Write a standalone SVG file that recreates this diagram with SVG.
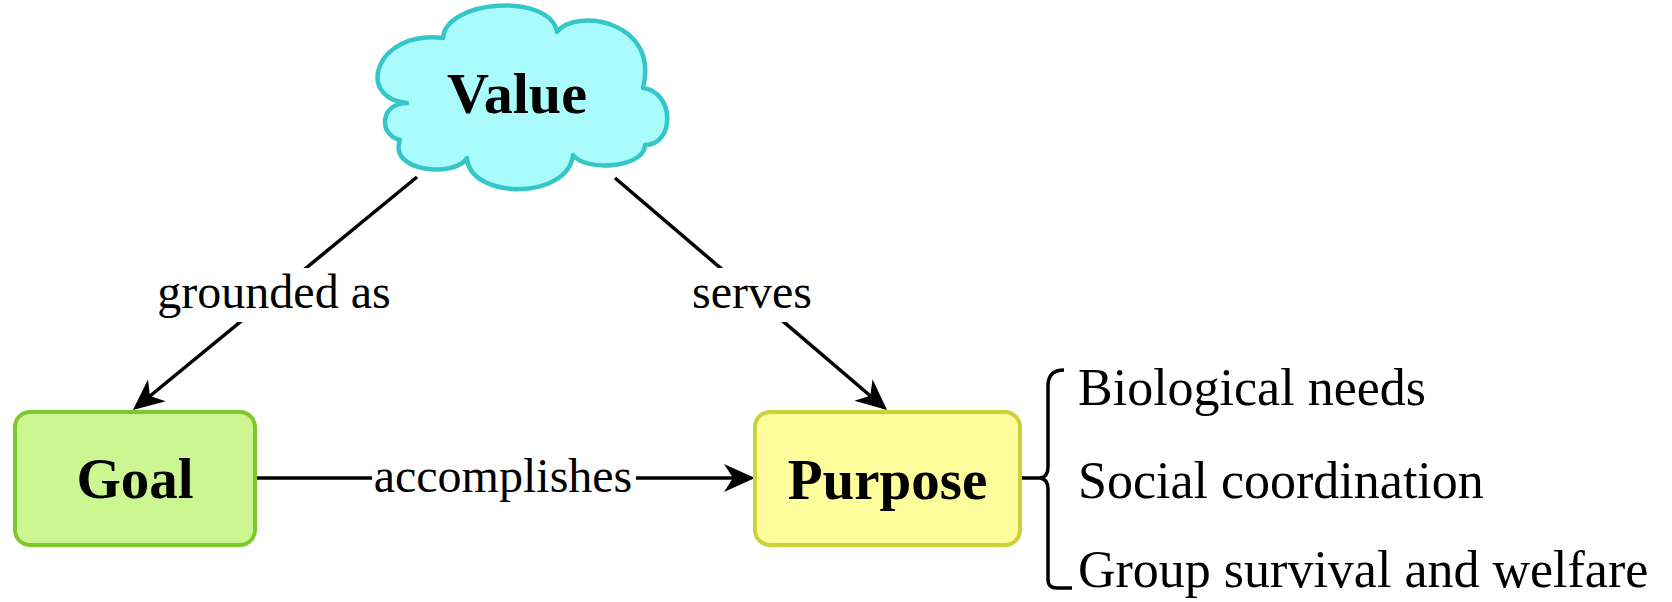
<svg xmlns="http://www.w3.org/2000/svg" width="1672" height="602" viewBox="0 0 1672 602">
<style>
.node-t{font-family:"Liberation Serif","Times New Roman",serif;font-weight:bold;font-size:57px;fill:#000;text-anchor:middle}
.lbl{font-family:"Liberation Serif","Times New Roman",serif;font-size:48px;fill:#000;text-anchor:middle}
.item{font-family:"Liberation Serif","Times New Roman",serif;font-size:52px;fill:#000}
.edge{stroke:#000;stroke-width:3.5;fill:none}
.bg{fill:#fff}
</style>
<defs>
<marker id="arr" viewBox="-34 -17 42 34" refX="-4" refY="0" markerWidth="42" markerHeight="34" markerUnits="userSpaceOnUse" orient="auto">
<path d="M0,0 L-31,-14 L-22,0 L-31,14 Z" fill="#000"/>
</marker>
</defs>
<rect width="1672" height="602" fill="#fff"/>
<g id="connectors">
<line class="edge" x1="417" y1="177" x2="136" y2="407.5" marker-end="url(#arr)"/>
<line class="edge" x1="615" y1="178" x2="884" y2="407.5" marker-end="url(#arr)"/>
<line class="edge" x1="252" y1="478" x2="751" y2="478" marker-end="url(#arr)"/>
<line class="edge" x1="1020" y1="478" x2="1042" y2="478"/>
<g id="label-grounded">
<rect class="bg" x="157" y="268" width="234" height="54"/>
<text class="lbl" x="274" y="308">grounded as</text>
</g>
<g id="label-serves">
<rect class="bg" x="690" y="268" width="125" height="54"/>
<text class="lbl" x="752" y="308">serves</text>
</g>
<g id="label-accomplishes">
<rect class="bg" x="372" y="455" width="264" height="46"/>
<text class="lbl" x="503" y="492">accomplishes</text>
</g>
</g>
<g id="value">
<path d="M407 103 C355 98 375 30 443 38 C445 0 550 -8 557 32 C575 8 660 20 643 88 C675 92 675 145 645 145 C645 168 585 172 573 155 C568 200 470 200 467 158 C455 178 388 172 400 140 C378 135 380 103 407 103 Z" fill="#aafcfc" stroke="#35c6c8" stroke-width="4.5" stroke-linejoin="round"/>
<text class="node-t" x="517" y="113" font-size="58" textLength="140" lengthAdjust="spacingAndGlyphs">Value</text>
</g>
<g id="goal">
<rect x="15" y="412" width="240" height="133" rx="15" fill="#ccf692" stroke="#7dc92d" stroke-width="4"/>
<text class="node-t" x="135" y="498">Goal</text>
</g>
<g id="purpose">
<rect x="755" y="412" width="265" height="133" rx="15" fill="#fdfd9c" stroke="#cdd138" stroke-width="4"/>
<text class="node-t" x="887.5" y="499">Purpose</text>
</g>
<g id="purpose-list">
<path class="edge" d="M1064 370 Q1048 370 1048 386 L1048 467 Q1048 477 1040 478 Q1048 479 1048 489 L1048 580 Q1048 588 1057 588 L1072 588"/>
<text class="item" x="1078" y="405">Biological needs</text>
<text class="item" x="1078" y="498">Social coordination</text>
<text class="item" x="1078" y="587">Group survival and welfare</text>
</g>
</svg>
